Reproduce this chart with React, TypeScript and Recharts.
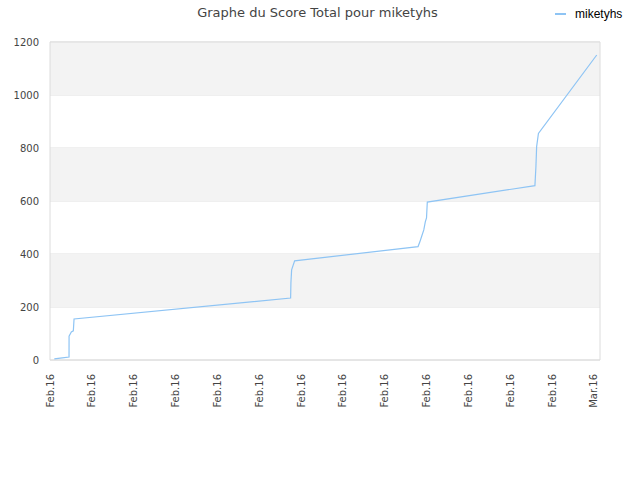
import { CartesianGrid, Line, LineChart, ReferenceArea, XAxis, YAxis } from 'recharts';

// position along the time axis, in tick steps from the first label
const dayPos = [
    0.103, 0.294, 0.455, 0.456, 0.51, 0.558, 0.575, 5.753, 5.76, 5.777, 5.849, 8.8, 8.841, 8.889, 8.937, 8.973,
    9.002, 9.021, 11.594, 11.618, 11.635, 11.678, 13.072,
];
const scores = [4, 8, 11, 90, 106, 110, 155, 234, 291, 340, 374, 428, 445, 468, 491, 521, 536, 596, 658, 729, 805, 855, 1151];

const tickLabels = [
    'Feb.16', 'Feb.16', 'Feb.16', 'Feb.16', 'Feb.16', 'Feb.16', 'Feb.16',
    'Feb.16', 'Feb.16', 'Feb.16', 'Feb.16', 'Feb.16', 'Feb.16', 'Mar.16',
];
const xTicks = tickLabels.map((_, i) => i);
const yTicks = [0, 200, 400, 600, 800, 1000, 1200];
const bands = [
    [200, 400],
    [600, 800],
    [1000, 1200],
];

const data = dayPos.map((x, i) => ({ x, score: scores[i] }));

const LINE_COLOR = '#8ec4f4';
const FONT = '"DejaVu Sans", sans-serif';

function DateTick({ x, y, payload }: any) {
    return (
        <g transform={`translate(${x},${y + 6})`}>
            <text transform='rotate(-90)' x={0} y={0} dy={3.6} textAnchor='end' fontSize={10} fill='#444' fontFamily={FONT}>
                {tickLabels[payload.value]}
            </text>
        </g>
    );
}

export default function App() {
    return (
        <div style={{ position: 'absolute', left: 0, top: 0, width: 640, height: 480, fontFamily: FONT, background: '#fff' }}>
            <div style={{ position: 'absolute', top: 5, left: 0, width: 635, textAlign: 'center', fontSize: 13, color: '#444' }}>
                Graphe du Score Total pour miketyhs
            </div>
            <div style={{ position: 'absolute', top: 7, left: 555, display: 'flex', alignItems: 'center', fontSize: 12, fontFamily: '"Liberation Sans", sans-serif', color: '#000' }}>
                <span style={{ display: 'inline-block', width: 11, height: 2, background: LINE_COLOR, marginRight: 9 }} />
                miketyhs
            </div>
            <LineChart width={640} height={480} data={data} margin={{ top: 42, right: 40, left: 0, bottom: 60 }}>
                {bands.map(([y1, y2], i) => (
                    <ReferenceArea key={i} y1={y1} y2={y2} x1={0} x2={13.15} fill='#f3f3f3' fillOpacity={1} stroke='none' />
                ))}
                <CartesianGrid vertical={false} stroke='#e0e0e0' strokeDasharray='' />
                <ReferenceArea x1={0} x2={13.15} y1={0} y2={1200} fill='none' stroke='#dcdcdc' strokeWidth={1} />
                <XAxis
                    dataKey='x'
                    type='number'
                    domain={[0, 13.15]}
                    ticks={xTicks}
                    interval={0}
                    height={60}
                    axisLine={false}
                    tickLine={false}
                    tick={<DateTick />}
                />
                <YAxis
                    type='number'
                    domain={[0, 1200]}
                    ticks={yTicks}
                    width={50}
                    axisLine={false}
                    tickLine={false}
                    tickMargin={5}
                    tick={{ fontSize: 10, fill: '#444', fontFamily: FONT }}
                />
                <Line
                    type='linear'
                    dataKey='score'
                    stroke={LINE_COLOR}
                    strokeWidth={1.2}
                    dot={false}
                    activeDot={false}
                    isAnimationActive={false}
                />
            </LineChart>
        </div>
    );
}
